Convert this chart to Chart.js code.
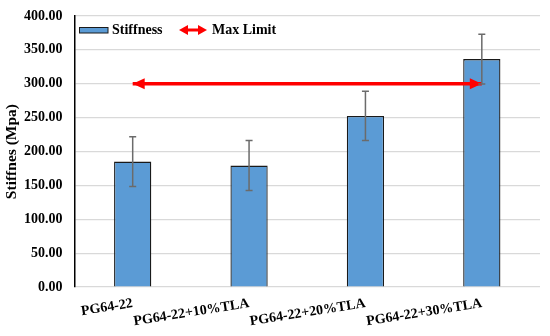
<!DOCTYPE html>
<html>
<head>
<meta charset="utf-8">
<script src="https://cdn.jsdelivr.net/npm/chart.js@4"></script>
<style>
  html, body { margin: 0; padding: 0; background: #ffffff; }
  #wrap { width: 550px; height: 336px; }
</style>
</head>
<body>
<div id="wrap"><canvas id="c" width="550" height="336"></canvas></div>
<script>
const categories = ['PG64-22', 'PG64-22+10%TLA', 'PG64-22+20%TLA', 'PG64-22+30%TLA'];
const stiffness = [185.2, 179.3, 252.6, 336.4];
const stiffnessError = [36.6, 36.9, 36.3, 36.6];
const maxLimit = [300, 300, 300, 300];
const yTicks = [0, 50, 100, 150, 200, 250, 300, 350, 400];

const FONT = '"Liberation Serif", "Times New Roman", serif';

function drawArrowHead(ctx, tipX, tipY, dir, len, half) {
  ctx.beginPath();
  ctx.moveTo(tipX, tipY);
  ctx.lineTo(tipX - dir * len, tipY - half);
  ctx.lineTo(tipX - dir * len, tipY + half);
  ctx.closePath();
  ctx.fill();
}

const errorBarPlugin = {
  id: 'errorBars',
  afterDatasetsDraw(chart) {
    const ctx = chart.ctx;
    const y = chart.scales.y;
    const lineMeta = chart.getDatasetMeta(1);
    if (lineMeta && lineMeta.data.length) {
      const p0 = lineMeta.data[0], p1 = lineMeta.data[lineMeta.data.length - 1];
      ctx.save();
      ctx.fillStyle = '#ff0000';
      drawArrowHead(ctx, p0.x, p0.y, -1, 12, 5.5);
      drawArrowHead(ctx, p1.x, p1.y, 1, 12, 5.5);
      ctx.restore();
    }
    const meta = chart.getDatasetMeta(0);
    ctx.save();
    ctx.strokeStyle = '#6b6b6b';
    ctx.lineWidth = 1.5;
    meta.data.forEach((bar, i) => {
      const v = stiffness[i], e = stiffnessError[i];
      const yt = y.getPixelForValue(v + e);
      const yb = y.getPixelForValue(v - e);
      const x = bar.x;
      ctx.beginPath();
      ctx.moveTo(x, yt); ctx.lineTo(x, yb);
      ctx.moveTo(x - 3.5, yt); ctx.lineTo(x + 3.5, yt);
      ctx.moveTo(x - 3.5, yb); ctx.lineTo(x + 3.5, yb);
      ctx.stroke();
    });
    ctx.restore();
  }
};

const legendPlugin = {
  id: 'customLegend',
  afterDraw(chart) {
    const ctx = chart.ctx;
    const ds = chart.data.datasets;
    ctx.save();
    ctx.fillStyle = '#5b9bd5';
    ctx.fillRect(79, 27, 29, 6);
    ctx.strokeStyle = '#1a1a1a';
    ctx.lineWidth = 1;
    ctx.strokeRect(79.5, 27.5, 28.5, 5.5);
    ctx.fillStyle = '#000000';
    ctx.font = 'bold 14px ' + FONT;
    ctx.textBaseline = 'middle';
    ctx.textAlign = 'left';
    ctx.fillText(ds[0].label, 112, 30.5);
    ctx.strokeStyle = '#ff0000';
    ctx.fillStyle = '#ff0000';
    ctx.lineWidth = 3;
    ctx.beginPath();
    ctx.moveTo(186, 30); ctx.lineTo(200, 30);
    ctx.stroke();
    drawArrowHead(ctx, 179, 30, -1, 9, 5);
    drawArrowHead(ctx, 207, 30, 1, 9, 5);
    ctx.fillStyle = '#000000';
    ctx.fillText(ds[1].label, 212, 30.5);
    ctx.restore();
  }
};

new Chart(document.getElementById('c'), {
  type: 'bar',
  data: {
    labels: categories,
    datasets: [
      {
        label: 'Stiffness',
        data: stiffness,
        backgroundColor: '#5b9bd5',
        borderColor: '#1a1a1a',
        borderWidth: 1.3,
        barPercentage: 0.32,
        categoryPercentage: 1.0,
        order: 2
      },
      {
        type: 'line',
        label: 'Max Limit',
        data: maxLimit,
        borderColor: '#ff0000',
        borderWidth: 3.5,
        borderCapStyle: 'butt',
        pointRadius: 0,
        fill: false,
        order: 1
      }
    ]
  },
  options: {
    responsive: false,
    animation: false,
    layout: { padding: { left: 0, right: 10, top: 16, bottom: -2 } },
    plugins: {
      legend: { display: false },
      tooltip: { enabled: false }
    },
    scales: {
      x: {
        grid: { display: false, drawTicks: false },
        border: { display: false },
        ticks: {
          color: '#000000',
          font: { family: FONT, size: 14, weight: 'bold' },
          minRotation: 9,
          maxRotation: 9,
          autoSkip: false,
          padding: 8
        }
      },
      y: {
        min: 0,
        max: 400,
        afterBuildTicks(axis) { axis.ticks = yTicks.map(v => ({ value: v })); },
        afterFit(axis) { axis.paddingTop = 0; },
        grid: { color: '#d9d9d9', lineWidth: 1.3, drawTicks: false },
        border: { display: true, color: '#000000', width: 1.5 },
        ticks: {
          color: '#000000',
          font: { family: FONT, size: 14, weight: 'bold' },
          padding: 12,
          callback: v => Number(v).toFixed(2)
        },
        title: {
          display: true,
          text: 'Stiffnes (Mpa)',
          color: '#000000',
          font: { family: FONT, size: 15.5, weight: 'bold' },
          padding: { top: 3, bottom: -9.6 }
        }
      }
    }
  },
  plugins: [errorBarPlugin, legendPlugin]
});
</script>
</body>
</html>
